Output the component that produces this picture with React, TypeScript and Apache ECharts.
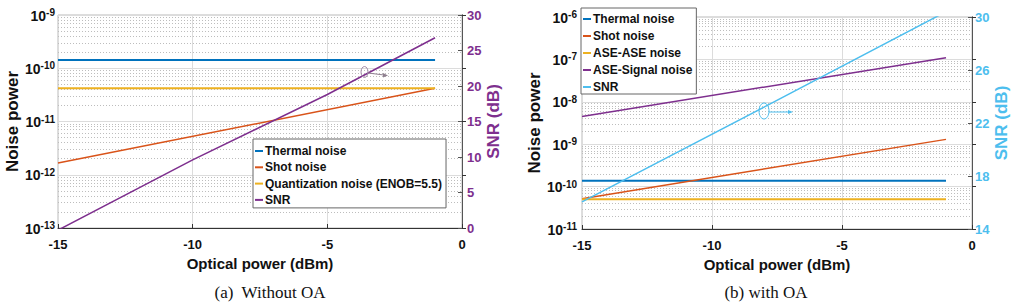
import React, { useEffect, useRef } from 'react';
import * as echarts from 'echarts';

// ---------- data ----------
const xTicks = [-15, -10, -5, 0];

// Panel (a): without OA
const aPower = [-15, -1];
const aThermal = [1.43e-10, 1.43e-10];
const aShot = [1.66e-12, 4.2e-11];
const aQuant = [4.2e-11, 4.2e-11];
const aSnrPower = [-15, -10, -5, -1];
const aSnr = [-0.3, 9.6, 18.8, 26.8];
const aSnrTicks = [0, 5, 10, 15, 20, 25, 30];
const aDecades = [-13, -12, -11, -10];

// Panel (b): with OA
const bPower = [-15, -1];
const bThermal = [1.38e-10, 1.38e-10];
const bShot = [5.2e-11, 1.3e-9];
const bAseAse = [5.0e-11, 5.0e-11];
const bAseSig = [4.5e-9, 1.1e-7];
const bSnrPower = [-15, -8, -1];
const bSnr = [16.05, 23.2, 30.4];
const bSnrTicks = [14, 18, 22, 26, 30];
const bDecades = [-11, -10, -9, -8, -7];

const minorMultipliers = [2, 3, 4, 5, 6, 7, 8, 9];

const C = {
  blue: '#0072BD',
  orange: '#D95319',
  yellow: '#EDB120',
  purple: '#7E2F8E',
  cyan: '#4DBEEE',
};

const FONT = '"Liberation Sans", Arial, Helvetica, sans-serif';

const zip = (xs: number[], ys: number[]) => xs.map((x, i) => [x, ys[i]]);
const minorValues = (decades: number[]) =>
  decades.flatMap((e) => minorMultipliers.map((m) => m * Math.pow(10, e)));

function xAxisCfg(gridIndex: number) {
  return {
    type: 'value',
    gridIndex,
    min: -15,
    max: 0,
    interval: 5,
    axisLine: { show: true, onZero: false, lineStyle: { color: '#333', width: 1 } },
    axisTick: { show: true, inside: true, length: 4, lineStyle: { color: '#333' } },
    axisLabel: {
      margin: 10,
      fontSize: 13,
      fontWeight: 'bold',
      color: '#111',
      fontFamily: FONT,
      customValues: xTicks,
    },
    splitLine: { show: true, lineStyle: { color: '#dcdcdc', width: 1 } },
    name: 'Optical power (dBm)',
    nameLocation: 'middle',
    nameGap: 23,
    nameTextStyle: { fontSize: 15, fontWeight: 'bold', color: '#111', fontFamily: FONT },
  };
}

function logAxisCfg(gridIndex: number, min: number, max: number, nameGap: number, labelMargin: number) {
  return {
    type: 'log',
    logBase: 10,
    gridIndex,
    min,
    max,
    position: 'left',
    axisLine: { show: true, lineStyle: { color: '#333', width: 1 } },
    axisTick: { show: true, inside: true, length: 4, lineStyle: { color: '#333' } },
    axisLabel: {
      margin: labelMargin,
      formatter: (v: number) => `{b|10}{s|${Math.round(Math.log10(v))}}`,
      rich: {
        b: { fontSize: 14, fontWeight: 'bold', color: '#111', fontFamily: FONT, verticalAlign: 'bottom', lineHeight: 15 },
        s: { fontSize: 10, fontWeight: 'bold', color: '#111', fontFamily: FONT, verticalAlign: 'top', lineHeight: 11, padding: [0, 0, 9, 0] },
      },
    },
    splitLine: { show: true, lineStyle: { color: '#dcdcdc', width: 1 } },
    name: 'Noise power',
    nameLocation: 'middle',
    nameGap,
    nameRotate: 90,
    nameTextStyle: { fontSize: 17, fontWeight: 'bold', color: '#111', fontFamily: FONT },
  };
}

function snrAxisCfg(gridIndex: number, ticks: number[], color: string, nameGap: number, labelMargin: number) {
  return {
    type: 'value',
    gridIndex,
    position: 'right',
    min: ticks[0],
    max: ticks[ticks.length - 1],
    axisLine: { show: true, lineStyle: { color: '#555', width: 1 } },
    axisTick: { show: true, inside: true, length: 4, lineStyle: { color: '#555' }, customValues: ticks },
    axisLabel: {
      margin: labelMargin,
      fontSize: 13,
      fontWeight: 'bold',
      color,
      fontFamily: FONT,
      customValues: ticks,
    },
    splitLine: { show: false },
    name: 'SNR (dB)',
    nameLocation: 'middle',
    nameGap,
    nameRotate: 90,
    nameTextStyle: { fontSize: 17, fontWeight: 'bold', color, fontFamily: FONT },
  };
}

function lineSeries(name: string, xi: number, yi: number, data: number[][], color: string, width: number) {
  return {
    type: 'line',
    name,
    xAxisIndex: xi,
    yAxisIndex: yi,
    data,
    symbol: 'none',
    showSymbol: false,
    color,
    lineStyle: { color, width },
    clip: true,
    z: 3,
  };
}

// minor log grid (MATLAB-style dotted lines at 2..9 x 10^n)
function minorGridSeries(xi: number, yi: number, decades: number[]) {
  return {
    type: 'lines',
    name: '__minor' + xi,
    coordinateSystem: 'cartesian2d',
    xAxisIndex: xi,
    yAxisIndex: yi,
    silent: true,
    z: 1,
    lineStyle: { color: '#bdbdbd', type: [1, 2], width: 1, opacity: 1 },
    data: minorValues(decades).map((v) => ({ coords: [[xTicks[0], v], [xTicks[xTicks.length - 1], v]] })),
  };
}

function legendCfg(left: number, top: number, gap: number, padding: number[], items: { name: string; color: string }[]) {
  return {
    orient: 'vertical',
    left,
    top,
    icon: 'rect',
    itemWidth: 8,
    itemHeight: 2,
    itemGap: gap,
    padding,
    backgroundColor: '#fff',
    borderColor: '#666',
    borderWidth: 1,
    borderRadius: 0,
    selectedMode: false,
    itemStyle: { borderWidth: 0 },
    textStyle: { fontSize: 12, fontWeight: 'bold', color: '#111', fontFamily: FONT, padding: [0, 0, 0, -3] },
    data: items.map((it) => ({ name: it.name, itemStyle: { color: it.color, borderWidth: 0 } })),
  };
}

export default function App() {
  const ref = useRef<HTMLDivElement>(null);

  useEffect(() => {
    if (!ref.current) return;
    const chart = echarts.init(ref.current, undefined, { renderer: 'svg' });
    const serif = '"Liberation Serif", "Times New Roman", serif';
    const option: any = {
      animation: false,
      backgroundColor: '#fff',
      grid: [
        { left: 58, top: 15, width: 404, height: 213, show: true, borderColor: '#bbb', borderWidth: 1, backgroundColor: 'transparent' },
        { left: 582, top: 17, width: 390, height: 212, show: true, borderColor: '#bbb', borderWidth: 1, backgroundColor: 'transparent' },
      ],
      xAxis: [xAxisCfg(0), xAxisCfg(1)],
      yAxis: [
        logAxisCfg(0, 1e-13, 1e-9, 35, 3),
        snrAxisCfg(0, aSnrTicks, C.purple, 22, 5),
        logAxisCfg(1, 1e-11, 1e-6, 38, 5),
        snrAxisCfg(1, bSnrTicks, C.cyan, 21, 3),
      ],
      legend: [
        legendCfg(253, 139, 4.3, [6, 4, 2, 2], [
          { name: 'Thermal noise', color: C.blue },
          { name: 'Shot noise', color: C.orange },
          { name: 'Quantization noise (ENOB=5.5)', color: C.yellow },
          { name: 'SNR', color: C.purple },
        ]),
        legendCfg(581, 8, 5, [5, 4, 1, 2], [
          { name: 'Thermal noise', color: C.blue },
          { name: 'Shot noise', color: C.orange },
          { name: 'ASE-ASE noise', color: C.yellow },
          { name: 'ASE-Signal noise', color: C.purple },
          { name: 'SNR', color: C.cyan },
        ]),
      ],
      series: [
        minorGridSeries(0, 0, aDecades),
        minorGridSeries(1, 2, bDecades),
        lineSeries('Thermal noise', 0, 0, zip(aPower, aThermal), C.blue, 2),
        lineSeries('Shot noise', 0, 0, zip(aPower, aShot), C.orange, 1.5),
        lineSeries('Quantization noise (ENOB=5.5)', 0, 0, zip(aPower, aQuant), C.yellow, 2),
        lineSeries('SNR', 0, 1, zip(aSnrPower, aSnr), C.purple, 1.5),
        lineSeries('Thermal noise', 1, 2, zip(bPower, bThermal), C.blue, 2),
        lineSeries('Shot noise', 1, 2, zip(bPower, bShot), C.orange, 1.5),
        lineSeries('ASE-ASE noise', 1, 2, zip(bPower, bAseAse), C.yellow, 2),
        lineSeries('ASE-Signal noise', 1, 2, zip(bPower, bAseSig), C.purple, 1.5),
        lineSeries('SNR', 1, 3, zip(bSnrPower, bSnr), C.cyan, 1.5),
      ],
      graphic: [
        { type: 'ellipse', shape: { cx: 364.5, cy: 72, rx: 3.5, ry: 5.5 }, style: { fill: 'none', stroke: '#a08aa8', lineWidth: 1 }, z: 10 },
        { type: 'line', shape: { x1: 368, y1: 73, x2: 384, y2: 75 }, style: { stroke: '#8f8090', lineWidth: 1 }, z: 10 },
        { type: 'polygon', shape: { points: [[388, 75.5], [383, 73], [383, 77.5]] }, style: { fill: '#8f8090' }, z: 10 },
        { type: 'ellipse', shape: { cx: 764, cy: 111, rx: 5, ry: 8 }, style: { fill: 'none', stroke: C.cyan, lineWidth: 1 }, z: 10 },
        { type: 'line', shape: { x1: 769, y1: 112, x2: 789, y2: 112 }, style: { stroke: C.cyan, lineWidth: 1 }, z: 10 },
        { type: 'polygon', shape: { points: [[793, 112], [788, 110], [788, 114]] }, style: { fill: C.cyan }, z: 10 },
        {
          type: 'text', x: 270, y: 292, z: 10,
          style: { text: '(a)  Without OA', fontSize: 17, fontFamily: serif, fill: '#111', align: 'center', verticalAlign: 'middle' },
        },
        {
          type: 'text', x: 766, y: 292, z: 10,
          style: { text: '(b) with OA', fontSize: 17, fontFamily: serif, fill: '#111', align: 'center', verticalAlign: 'middle' },
        },
      ],
    };
    chart.setOption(option);
    return () => chart.dispose();
  }, []);

  return (
    <div
      ref={ref}
      style={{ position: 'fixed', left: 0, top: 0, width: 1023, height: 308, background: '#fff' }}
    />
  );
}
